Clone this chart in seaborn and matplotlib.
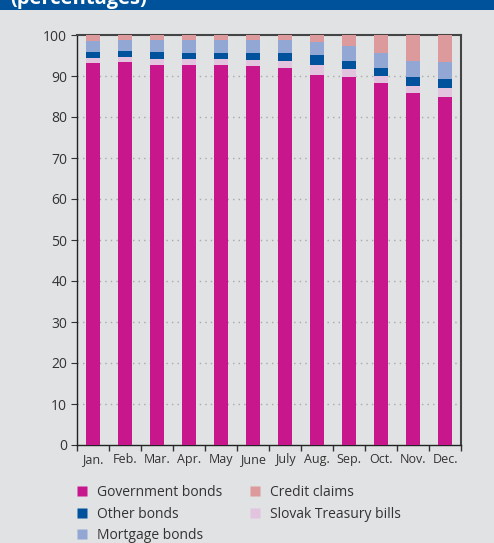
import matplotlib
matplotlib.use("Agg")
import matplotlib.pyplot as plt
import seaborn as sns
import numpy as np
import pandas as pd
from matplotlib.lines import Line2D
from matplotlib.patches import Rectangle

months = ["Jan.", "Feb.", "Mar.", "Apr.", "May", "June", "July", "Aug.", "Sep.", "Oct.", "Nov.", "Dec."]
government_bonds = [93.1, 93.4, 92.8, 92.7, 92.8, 92.4, 91.9, 90.2, 89.7, 88.2, 85.8, 85.0]
treasury_bills = [1.4, 1.3, 1.4, 1.4, 1.4, 1.6, 1.8, 2.5, 2.0, 1.9, 1.8, 2.1]
other_bonds = [1.4, 1.3, 1.6, 1.4, 1.3, 1.7, 2.0, 2.4, 1.9, 1.8, 2.2, 2.1]
mortgage_bonds = [2.7, 2.7, 2.9, 3.2, 3.2, 3.0, 3.0, 3.1, 3.6, 3.8, 3.9, 4.1]
credit_claims = [1.4, 1.3, 1.3, 1.3, 1.3, 1.3, 1.3, 1.8, 2.8, 4.3, 6.3, 6.7]
yticks = list(range(0, 101, 10))

series = ["Government bonds", "Slovak Treasury bills", "Other bonds", "Mortgage bonds", "Credit claims"]
values = [government_bonds, treasury_bills, other_bonds, mortgage_bonds, credit_claims]
colors = {
    "Government bonds": "#c8168c",
    "Slovak Treasury bills": "#e3c4df",
    "Other bonds": "#00529c",
    "Mortgage bonds": "#93a7d4",
    "Credit claims": "#dd9a9c",
}

bg = "#e1e2e4"
plt.rcParams["font.family"] = ["Open Sans", "DejaVu Sans"]

W, H = 494, 543
fig = plt.figure(figsize=(W / 100, H / 100), dpi=100, facecolor=bg)

# header band
fig.patches.append(Rectangle((0, 1 - 10 / H), 1, 10 / H, transform=fig.transFigure,
                             facecolor="#00529b", edgecolor="none", zorder=0))
fig.text(10 / W, 1 - 4 / H, "(percentages)", color="white", fontsize=14.5, fontweight="bold",
         va="baseline", ha="left")

ax = fig.add_axes([77 / W, (H - 445) / H, (461 - 77) / W, (445 - 35) / H])
ax.set_facecolor(bg)

cum = np.zeros(len(months))
cums = []
for name, v in zip(series, values):
    cum = cum + np.array(v)
    cums.append((name, cum.copy()))

for name, c in reversed(cums):
    d = pd.DataFrame({"month": months, "value": c})
    sns.barplot(data=d, x="month", y="value", color=colors[name], width=0.42,
                saturation=1, ax=ax, zorder=3, linewidth=0)

ax.set_xlim(-0.5, len(months) - 0.5)
ax.set_ylim(0, 100)
ax.set_yticks(yticks)
ax.set_xlabel("")
ax.set_ylabel("")

for y in yticks[1:-1]:
    ax.axhline(y, color="#a8a8a8", linestyle=(0, (1, 3)), linewidth=1, zorder=1)

ax.set_xticks(range(len(months)))
ax.set_xticklabels(months, fontsize=9, color="#333333")
ax.set_xticks(np.arange(-0.5, len(months), 1), minor=True)
ax.tick_params(axis="x", which="major", length=0, pad=6)
ax.tick_params(axis="x", which="minor", length=4, direction="out", color="#333333", width=1)
ax.tick_params(axis="y", length=4, direction="out", color="#333333", labelsize=10,
               labelcolor="#333333", pad=3)

for s in ["left", "bottom"]:
    ax.spines[s].set_color("#222222")
    ax.spines[s].set_linewidth(1)
for s in ["top", "right"]:
    ax.spines[s].set_color("#444444")
    ax.spines[s].set_linewidth(1.5)

order = ["Government bonds", "Other bonds", "Mortgage bonds", "Credit claims", "Slovak Treasury bills"]
handles = [Line2D([], [], marker="s", linestyle="none", markersize=7.2,
                  markerfacecolor=colors[n], markeredgecolor="none") for n in order]
leg = fig.legend(handles, order, loc="upper left", bbox_to_anchor=(76.5 / W, 1 - 485 / H),
                 ncol=2, frameon=False, fontsize=10, handlelength=0.8, handletextpad=0.68,
                 columnspacing=1.98, labelspacing=0.47, borderaxespad=0, borderpad=0)
for t in leg.get_texts():
    t.set_color("#333333")

fig.savefig("out.png", dpi=100, facecolor=bg)
